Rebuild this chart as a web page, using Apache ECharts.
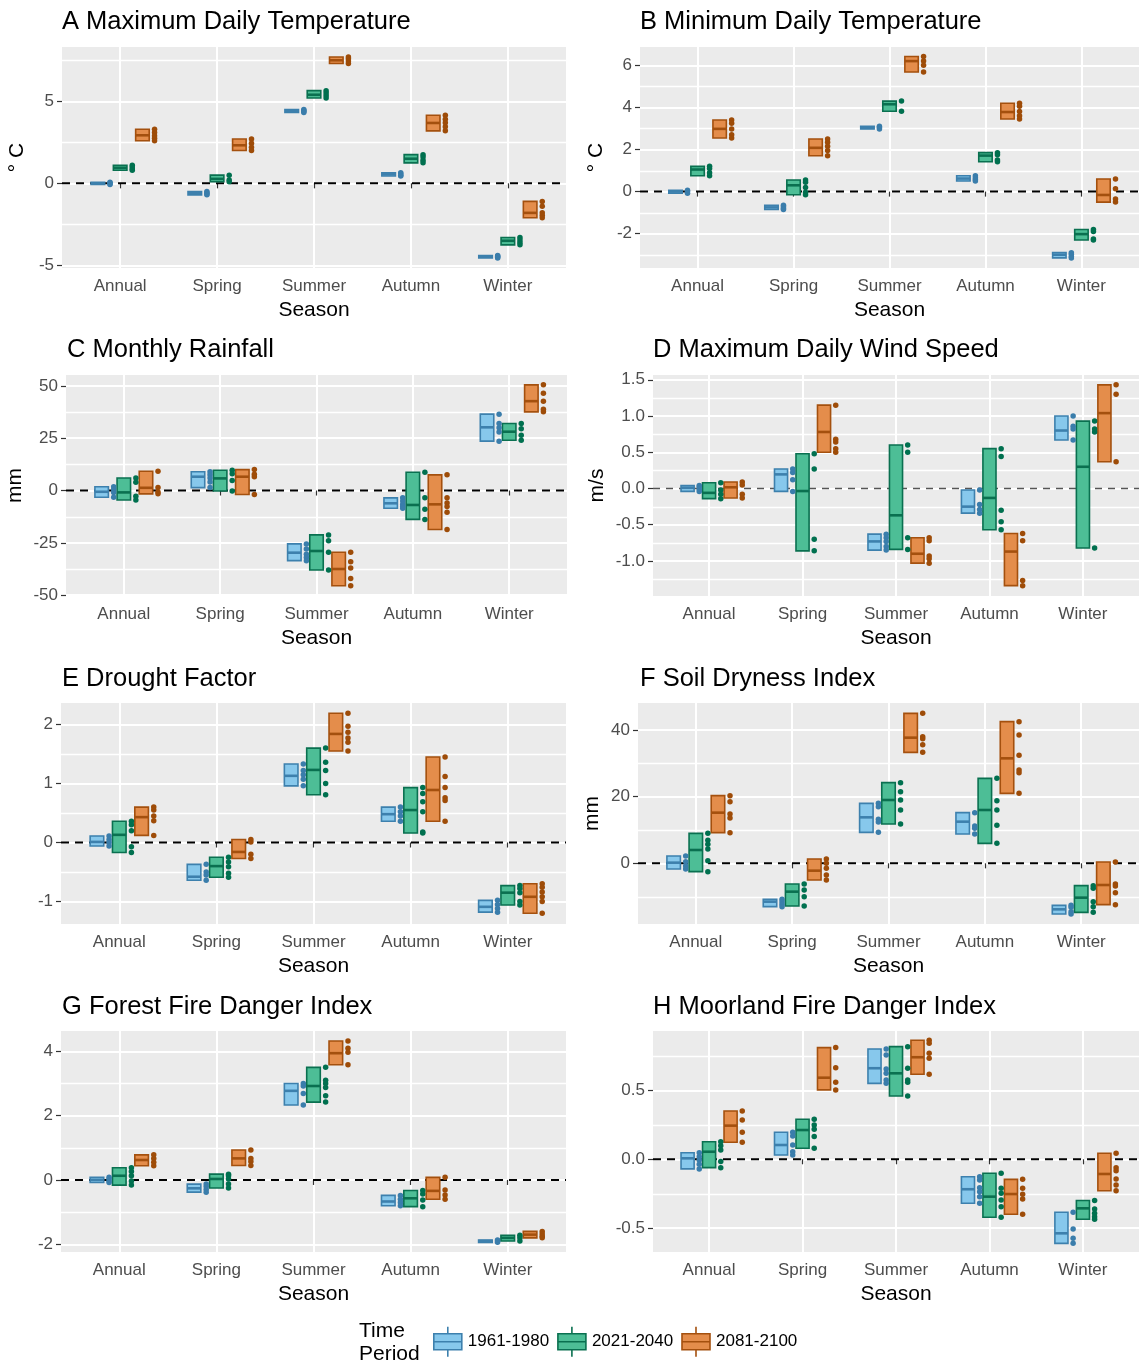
<!DOCTYPE html>
<html>
<head>
<meta charset="utf-8">
<script src="https://cdn.jsdelivr.net/npm/echarts@6/dist/echarts.min.js"></script>
<style>
  html, body { margin: 0; padding: 0; background: #fff; }
  #chart { width: 1139px; height: 1366px; }
</style>
</head>
<body>
<div id="chart"></div>
<script>
"use strict";

// categorias y periodos
var seasons = ['Annual', 'Spring', 'Summer', 'Autumn', 'Winter'];
var periods = ['1961-1980', '2021-2040', '2081-2100'];

// A Maximum Daily Temperature (centro de caja y puntos, por periodo)
var tmaxMid = [[0, -0.6, 4.4, 0.55, -4.47], [0.95, 0.27, 5.4, 1.5, -3.5], [2.93, 2.32, 7.5, 3.68, -1.8]];
var tmaxPoints = [
    [[0.07, 0.02, -0.03, -0.07], [-0.5, -0.58, -0.65, -0.7], [4.5, 4.44, 4.38, 4.32], [0.65, 0.58, 0.5, 0.45], [-4.4, -4.45, -4.5, -4.55]],
    [[1.1, 1.0, 0.88, 0.8], [0.5, 0.2, 0.1], [5.65, 5.5, 5.35, 5.2], [1.75, 1.6, 1.4, 1.25], [-3.3, -3.45, -3.6, -3.75]],
    [[3.3, 3.1, 2.9, 2.75, 2.6], [2.7, 2.45, 2.2, 2.0], [7.7, 7.6, 7.45, 7.3], [4.15, 3.9, 3.7, 3.45, 3.2], [-1.1, -1.4, -1.8, -1.95, -2.1]]
];

// B Minimum Daily Temperature
var tminMid = [[0, -0.75, 3.03, 0.62, -3.0], [1.05, 0.3, 4.15, 1.71, -2.02], [2.98, 2.08, 6.2, 3.78, -0.16]];
var tminPoints = [
    [[0.06, 0, -0.08], [-0.65, -0.72, -0.8, -0.85], [3.1, 3.05, 2.98], [0.75, 0.66, 0.58, 0.5], [-2.9, -2.98, -3.08, -3.15]],
    [[1.2, 1.1, 0.9, 0.75], [0.55, 0.45, 0.2, -0.03, -0.15], [4.3, 3.82], [1.85, 1.75, 1.5, 1.42], [-1.8, -1.9, -2.25, -2.3]],
    [[3.4, 3.25, 2.98, 2.7, 2.55], [2.5, 2.35, 2.15, 1.95, 1.7], [6.42, 6.2, 6.0, 5.68], [4.2, 4.05, 3.8, 3.6, 3.45], [0.6, 0.13, -0.35, -0.5]]
];

// C Monthly Rainfall
var rainMid = [[-0.6, 6.6, -29.7, -6.1, 30.2], [-0.9, 5.8, -28.9, -6.9, 28.1], [1.3, 6.6, -37.5, -6.6, 42.7]];
var rainPoints = [
    [[1.8, 0.5, -1, -3.2], [9, 7.5, 6, 4.1, 1.4], [-25.5, -28, -30.5, -32, -33.5], [-3.5, -5, -6.5, -7.5, -8.5], [36.5, 32, 30, 28, 23.6]],
    [[6, 4, -2.7, -4.5], [9.7, 8, 4.8, -0.2], [-21.2, -24, -29.5, -38], [8.7, -3.5, -8.9, -13.8], [32, 29.5, 26.4, 24]],
    [[9.2, 1.5, -0.7, -1.6], [10, 7.8, 6.6, -1.9], [-29.5, -34, -37, -42, -45.5], [7.5, -3.5, -6, -7.6, -10.4, -18.6], [50.5, 46.5, 42.7, 38.8, 37.6]]
];

// D Maximum Daily Wind Speed
var windMid = [[0.01, 0.195, -0.73, -0.25, 0.8], [-0.06, -0.035, -0.37, -0.13, 0.3], [0.017, 0.78, -0.9, -0.87, 1.04]];
var windPoints = [
    [[0.04, 0.02, -0.01, -0.04], [0.27, 0.22, 0.12, -0.04], [-0.63, -0.68, -0.73, -0.8, -0.85], [-0.02, -0.22, -0.29, -0.34], [1.0, 0.86, 0.82, 0.67]],
    [[0.08, -0.02, -0.08, -0.14], [0.48, 0.27, -0.7, -0.86], [0.6, 0.5, -0.68, -0.84], [0.55, 0.44, -0.3, -0.46, -0.57], [0.93, 0.82, 0.78, -0.82]],
    [[0.09, 0.05, -0.08, -0.13], [1.15, 0.68, 0.64, 0.55, 0.5], [-0.68, -0.72, -0.93, -0.97, -1.03], [-0.62, -0.72, -1.27, -1.34], [1.43, 1.3, 0.37]]
];

// E Drought Factor
var droughtMid = [[0.01, -0.58, 1.13, 0.48, -1.09], [0.13, -0.4, 1.23, 0.55, -0.85], [0.43, -0.16, 1.84, 0.89, -0.92]];
var droughtPoints = [
    [[0.11, 0.05, 0.0, -0.06], [-0.37, -0.5, -0.55, -0.64], [1.33, 1.22, 1.15, 1.07, 0.96], [0.6, 0.52, 0.45, 0.36], [-0.98, -1.05, -1.12, -1.18]],
    [[0.36, 0.3, 0.2, -0.07, -0.17], [-0.25, -0.33, -0.41, -0.52, -0.59], [1.6, 1.36, 1.22, 1.0, 0.81], [0.93, 0.83, 0.69, 0.52, 0.18, 0.16], [-0.73, -0.78, -0.85, -1.0, -1.06]],
    [[0.6, 0.55, 0.45, 0.37, 0.12], [0.05, 0.01, -0.2, -0.27], [2.19, 1.97, 1.87, 1.77, 1.7, 1.55], [1.45, 1.12, 0.93, 0.76, 0.71, 0.36], [-0.7, -0.76, -0.84, -0.92, -1.0, -1.2]]
];

// F Soil Dryness Index
var soilMid = [[0.2, -11.5, 13.8, 12.5, -13.8], [4, -8.5, 19, 16, -10.3], [15.2, -2.2, 37.7, 31.5, -6.5]];
var soilPoints = [
    [[2.2, 0.5, -0.8, -1.7], [-10.8, -11.5, -12.3, -13], [18, 17, 13.2, 12.4, 9.3], [15.2, 11.2, 10.5, 8.8], [-12.6, -13.2, -14.5, -15.2]],
    [[9, 6.9, 5.7, 4.3, 0.8, -2.5], [-6.2, -8, -10, -12.8], [24.2, 21.5, 19, 16, 11.8], [25.5, 18.8, 16, 11.4, 6], [-6.7, -7.5, -11.5, -13, -14.7]],
    [[20.3, 18.5, 14.8, 13.6, 9.2], [1.3, 0, -1.5, -3.5, -5], [45, 38, 37.4, 35.6, 33.3], [42.5, 38.5, 32.4, 28, 27.2, 21], [0.4, -6.2, -6.8, -8.8, -12.4]]
];

// G Forest Fire Danger Index
var ffdiMid = [[0, -0.26, 2.77, -0.67, -1.9], [0.13, 0.03, 2.92, -0.57, -1.8], [0.62, 0.67, 3.94, -0.34, -1.7]];
var ffdiPoints = [
    [[0.08, 0.03, -0.03, -0.08], [-0.13, -0.2, -0.3, -0.38], [3.0, 2.92, 2.69, 2.33], [-0.48, -0.6, -0.7, -0.8], [-1.87, -1.9, -1.94]],
    [[0.38, 0.26, 0.13, -0.03, -0.16], [0.18, 0.13, 0.03, -0.13, -0.25], [3.5, 3.1, 3.0, 2.87, 2.62, 2.42], [-0.33, -0.44, -0.62, -0.83], [-1.72, -1.8, -1.9]],
    [[0.78, 0.67, 0.55, 0.44], [0.93, 0.67, 0.57, 0.45], [4.32, 4.09, 3.97, 3.58], [0.08, -0.31, -0.47, -0.6], [-1.6, -1.68, -1.75, -1.8]]
];

// H Moorland Fire Danger Index
var mfdiMid = [[0.007, 0.104, 0.663, -0.218, -0.539], [0.055, 0.213, 0.626, -0.272, -0.357], [0.245, 0.594, 0.743, -0.253, -0.107]];
var mfdiPoints = [
    [[0.048, 0.019, -0.005, -0.036, -0.07], [0.197, 0.17, 0.104, 0.055, 0.031], [0.803, 0.76, 0.658, 0.626, 0.578, 0.553], [-0.127, -0.15, -0.207, -0.236, -0.272, -0.32], [-0.386, -0.508, -0.575, -0.612]],
    [[0.128, 0.099, 0.068, -0.017, -0.061], [0.291, 0.25, 0.218, 0.165, 0.08], [0.82, 0.663, 0.578, 0.561, 0.461], [-0.102, -0.211, -0.248, -0.296, -0.345, -0.422], [-0.3, -0.362, -0.393, -0.418, -0.437]],
    [[0.352, 0.286, 0.197, 0.124], [0.813, 0.667, 0.561, 0.505], [0.867, 0.845, 0.772, 0.736, 0.619], [-0.146, -0.211, -0.255, -0.289, -0.4], [0.044, -0.061, -0.083, -0.143, -0.187, -0.229]]
];

// estilos
var fillColors = ['#87C8EC', '#4DBE96', '#E48D4B'];
var lineColors = ['#3D80AD', '#0A7050', '#A4500E'];
var pointColors = ['#3A7DAB', '#00704F', '#9E4C08'];
var X_MIN = 0.4, X_MAX = 5.6;
var DODGE = 0.23, HALF_BOX = 0.07, POINT_SHIFT = 0.125;
var FONT = 'Liberation Sans';
var KEY_ICON = 'path://M1,7H29V23H1Z M1,15H29 M15,0V7 M15,23V30';

var panels = [
    { title: 'A Maximum Daily Temperature', unit: '° C', mid: tmaxMid, pts: tmaxPoints, yMin: -5.16, yMax: 8.31,
      ticks: [-5, 0, 5], minor: [-2.5, 2.5, 7.5], dec: 0, box: [62, 47, 504], tl: [62, 9], gap: 34 },
    { title: 'B Minimum Daily Temperature', unit: '° C', mid: tminMid, pts: tminPoints, yMin: -3.63, yMax: 6.87,
      ticks: [-2, 0, 2, 4, 6], minor: [-3, -1, 1, 3, 5], dec: 0, box: [640, 47, 503], tl: [640, 9], gap: 33 },
    { title: 'C Monthly Rainfall', unit: 'mm', mid: rainMid, pts: rainPoints, yMin: -50.4, yMax: 55.2,
      ticks: [-50, -25, 0, 25, 50], minor: [-37.5, -12.5, 12.5, 37.5], dec: 0, box: [66, 375, 501], tl: [67, 337], gap: 40 },
    { title: 'D Maximum Daily Wind Speed', unit: 'm/s', mid: windMid, pts: windPoints, yMin: -1.483, yMax: 1.566,
      ticks: [-1, -0.5, 0, 0.5, 1, 1.5], minor: [-1.25, -0.75, -0.25, 0.25, 0.75, 1.25], dec: 1, box: [653, 375, 490], tl: [653, 337], gap: 45, thinZero: true },
    { title: 'E Drought Factor', unit: '', mid: droughtMid, pts: droughtPoints, yMin: -1.381, yMax: 2.364,
      ticks: [-1, 0, 1, 2], minor: [-0.5, 0.5, 1.5], dec: 0, box: [61, 703, 505], tl: [62, 666], gap: 34 },
    { title: 'F Soil Dryness Index', unit: 'mm', mid: soilMid, pts: soilPoints, yMin: -18.2, yMax: 48.1,
      ticks: [0, 20, 40], minor: [-10, 10, 30], dec: 0, box: [638, 703, 506], tl: [640, 666], gap: 35 },
    { title: 'G Forest Fire Danger Index', unit: '', mid: ffdiMid, pts: ffdiPoints, yMin: -2.24, yMax: 4.63,
      ticks: [-2, 0, 2, 4], minor: [-1, 1, 3], dec: 0, box: [61, 1031, 505], tl: [62, 994], gap: 34 },
    { title: 'H Moorland Fire Danger Index', unit: '', mid: mfdiMid, pts: mfdiPoints, yMin: -0.675, yMax: 0.934,
      ticks: [-0.5, 0, 0.5], minor: [-0.25, 0.25, 0.75], dec: 1, box: [653, 1031, 490], tl: [653, 994], gap: 34 }
];

function makeRender(p) {
    return function (params, api) {
        var x = api.value(0);
        var lo = api.coord([x - HALF_BOX, api.value(1)]);
        var hi = api.coord([x + HALF_BOX, api.value(3)]);
        var md = api.coord([x, api.value(2)]);
        return {
            type: 'group',
            children: [{
                type: 'rect',
                shape: { x: lo[0], y: hi[1], width: hi[0] - lo[0], height: lo[1] - hi[1] },
                style: { fill: fillColors[p], stroke: lineColors[p], lineWidth: 1.6 }
            }, {
                type: 'line',
                shape: { x1: lo[0], y1: md[1], x2: hi[0], y2: md[1] },
                style: { stroke: lineColors[p], lineWidth: 2.6 }
            }]
        };
    };
}

// lineas menores de la rejilla, a todo el ancho del panel
function renderMinor(params, api) {
    var cs = params.coordSys;
    var y = Math.round(api.coord([api.value(0), api.value(1)])[1]) + 0.5;
    return {
        type: 'line',
        shape: { x1: cs.x, y1: y, x2: cs.x + cs.width, y2: y },
        style: { stroke: '#fff', lineWidth: 1.5 }
    };
}

var seasonTicks = seasons.map(function (s, i) { return i + 1; });
var titles = [], grids = [], xAxes = [], yAxes = [], series = [];

panels.forEach(function (pn, k) {
    titles.push({
        text: pn.title, left: pn.tl[0], top: pn.tl[1], padding: 0,
        textStyle: { fontFamily: FONT, fontSize: 25.5, fontWeight: 'normal', color: '#000' }
    });
    grids.push({
        left: pn.box[0], top: pn.box[1], width: pn.box[2], height: 221,
        show: true, backgroundColor: '#EBEBEB', borderWidth: 0
    });
    xAxes.push({
        type: 'value', gridIndex: k, min: X_MIN, max: X_MAX,
        name: 'Season', nameLocation: 'middle', nameGap: 32,
        nameTextStyle: { fontFamily: FONT, fontSize: 21, color: '#000' },
        axisLine: { show: false },
        axisTick: { show: true, length: 5, lineStyle: { color: '#333', width: 1.2 }, customValues: seasonTicks },
        axisLabel: {
            customValues: seasonTicks, margin: 10, fontFamily: FONT, fontSize: 17, color: '#4D4D4D',
            formatter: function (v) { return seasons[Math.round(v) - 1]; }
        },
        splitLine: { show: true, lineStyle: { color: '#fff', width: 2 } }
    });
    yAxes.push({
        type: 'value', gridIndex: k, position: 'left', min: pn.yMin, max: pn.yMax,
        name: pn.unit, nameLocation: 'middle', nameRotate: 90, nameGap: pn.gap,
        nameTextStyle: { fontFamily: FONT, fontSize: 21, color: '#000' },
        axisLine: { show: false },
        axisTick: { show: true, length: 5, lineStyle: { color: '#333', width: 1.2 }, customValues: pn.ticks },
        axisLabel: {
            customValues: pn.ticks, margin: 8, fontFamily: FONT, fontSize: 17, color: '#4D4D4D',
            formatter: function (v) { return v.toFixed(pn.dec); }
        },
        splitLine: { show: true, lineStyle: { color: '#fff', width: 2 } }
    });

    series.push({
        type: 'custom', xAxisIndex: k, yAxisIndex: k, z: 1, silent: true,
        renderItem: renderMinor,
        encode: { x: 0, y: 1 },
        data: pn.minor.map(function (v) { return [X_MIN, v]; })
    });

    // linea de cero
    series.push({
        type: 'line', xAxisIndex: k, yAxisIndex: k, z: 1, silent: true,
        symbol: 'none', data: [[X_MIN, 0], [X_MAX, 0]],
        lineStyle: pn.thinZero ? { color: '#555', width: 1.4, type: [7, 6] } : { color: '#000', width: 2, type: [8, 6] }
    });

    periods.forEach(function (name, p) {
        var boxes = seasons.map(function (s, i) {
            var vals = pn.pts[p][i];
            return [i + 1 + (p - 1) * DODGE, Math.min.apply(null, vals), pn.mid[p][i], Math.max.apply(null, vals)];
        });
        series.push({
            type: 'custom', name: name, xAxisIndex: k, yAxisIndex: k, z: 3,
            itemStyle: { color: fillColors[p], borderColor: lineColors[p] },
            renderItem: makeRender(p),
            encode: { x: 0, y: [1, 2, 3] },
            data: boxes
        });
        var dots = [];
        seasons.forEach(function (s, i) {
            pn.pts[p][i].forEach(function (v) {
                dots.push([i + 1 + (p - 1) * DODGE + POINT_SHIFT, v]);
            });
        });
        series.push({
            type: 'scatter', name: name, xAxisIndex: k, yAxisIndex: k, z: 4,
            symbolSize: 5.5, itemStyle: { color: pointColors[p], opacity: 1 },
            data: dots
        });
    });
});

titles.push({
    text: 'Time\nPeriod', left: 359, top: 1320, padding: 0,
    textStyle: { fontFamily: FONT, fontSize: 21, fontWeight: 'normal', color: '#000', lineHeight: 23 }
});

var myChart = echarts.init(document.getElementById('chart'));

var option = {
    animation: false,
    backgroundColor: '#fff',
    textStyle: { fontFamily: FONT },
    title: titles,
    legend: {
        left: 428, top: 1321, itemWidth: 30, itemHeight: 30, itemGap: 8, selectedMode: false,
        textStyle: { fontFamily: FONT, fontSize: 17, color: '#000' },
        data: periods.map(function (name, p) {
            return {
                name: name, icon: KEY_ICON,
                itemStyle: { color: fillColors[p], borderColor: lineColors[p], borderWidth: 1.6 }
            };
        })
    },
    grid: grids,
    xAxis: xAxes,
    yAxis: yAxes,
    series: series
};

myChart.setOption(option);
</script>
</body>
</html>
